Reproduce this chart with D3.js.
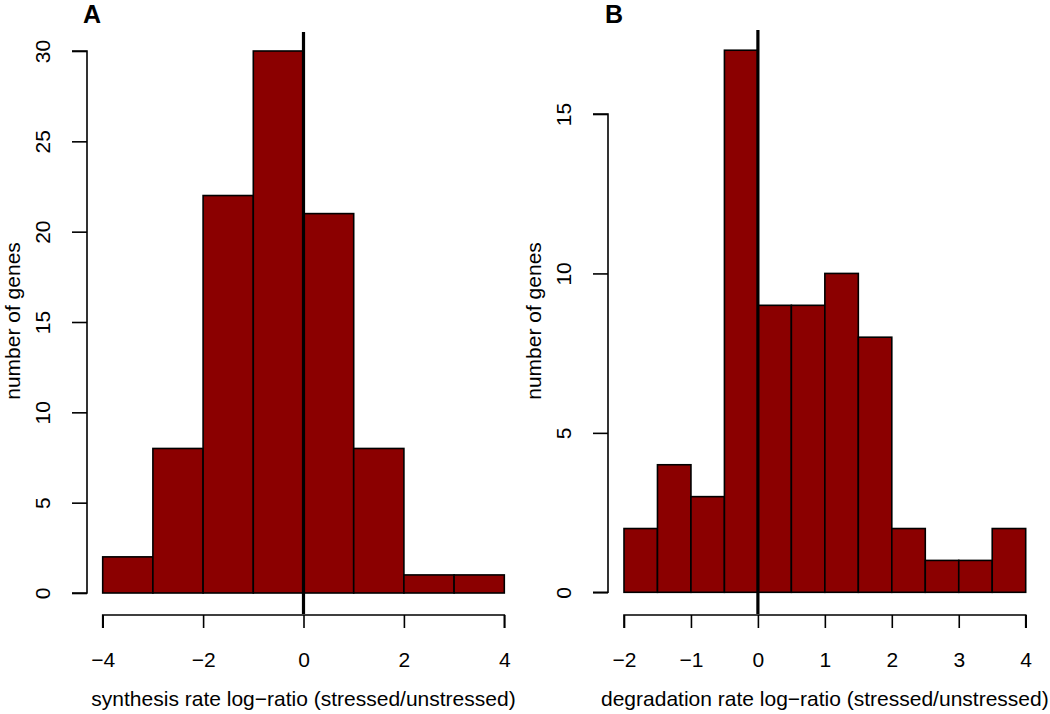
<!DOCTYPE html>
<html><head><meta charset="utf-8">
<script src="https://cdn.jsdelivr.net/npm/d3@7"></script>
<style>body{margin:0;background:#fff}svg{display:block}text{font-family:"Liberation Sans",Arial,sans-serif}</style>
</head><body>
<script>
// Panel A: synthesis rate log-ratio histogram
const binsA = [-4,-3,-2,-1,0,1,2,3,4];
const countsA = [2,8,22,30,21,8,1,1];
const xTicksA = [-4,-2,0,2,4];
const yTicksA = [0,5,10,15,20,25,30];
// Panel B: degradation rate log-ratio histogram
const binsB = [-2,-1.5,-1,-0.5,0,0.5,1,1.5,2,2.5,3,3.5,4];
const countsB = [2,4,3,17,9,9,10,8,2,1,1,2];
const xTicksB = [-2,-1,0,1,2,3,4];
const yTicksB = [0,5,10,15];

const W = 1050, H = 714;
const svg = d3.select("body").append("svg").attr("width", W).attr("height", H);
const fill = "#8b0000";
const FS = 21;

function panel(cfg){
  const g = svg.append("g");
  const x = d3.scaleLinear().domain(cfg.xd).range(cfg.xr);
  const y = d3.scaleLinear().domain(cfg.yd).range(cfg.yr);
  const bars = cfg.counts.map((c,i)=>({x0:cfg.bins[i],x1:cfg.bins[i+1],c}));
  g.selectAll("rect.bar").data(bars).join("rect")
    .attr("x", d=>x(d.x0)).attr("width", d=>x(d.x1)-x(d.x0))
    .attr("y", d=>y(d.c)).attr("height", d=>y(0)-y(d.c))
    .attr("fill", fill).attr("stroke","#000").attr("stroke-width",1.6);
  // zero line
  g.append("line").attr("x1",x(0)).attr("x2",x(0))
    .attr("y1",cfg.plotTop).attr("y2",cfg.plotBottom)
    .attr("stroke","#000").attr("stroke-width",3.2);
  // x axis
  const xa = g.append("g").attr("transform",`translate(0,${cfg.xAxisY})`)
    .call(d3.axisBottom(x).tickValues(cfg.xTicks).tickSize(13)
      .tickFormat(d=>d<0?"\u2212"+Math.abs(d):String(d)));
  xa.select(".domain").attr("d",`M${x(cfg.xTicks[0])},13V0H${x(cfg.xTicks[cfg.xTicks.length-1])}V13`).attr("stroke-width",1.6);
  xa.selectAll(".tick line").attr("stroke-width",1.6);
  xa.selectAll(".tick text").attr("y",52).attr("dy",0).attr("font-size",FS).attr("fill","#000");
  // y axis
  const ya = g.append("g").attr("transform",`translate(${cfg.yAxisX},0)`)
    .call(d3.axisLeft(y).tickValues(cfg.yTicks).tickSize(15).tickFormat(d3.format("d")));
  ya.select(".domain").attr("d",`M-15,${y(cfg.yTicks[cfg.yTicks.length-1])}H0V${y(cfg.yTicks[0])}H-15`).attr("stroke-width",1.6);
  ya.selectAll(".tick line").attr("stroke-width",1.6);
  ya.selectAll(".tick text").attr("x",0).attr("dy",0)
    .attr("transform","translate(-37,0) rotate(-90)")
    .attr("text-anchor","middle")
    .attr("font-size",FS).attr("fill","#000");
  // titles
  g.append("text").attr("x",(x(cfg.xTicks[0])+x(cfg.xTicks[cfg.xTicks.length-1]))/2).attr("y",706)
    .attr("text-anchor","middle").attr("font-size",FS).text(cfg.xTitle);
  g.append("text").attr("transform",`translate(${cfg.yLabX},321) rotate(-90)`)
    .attr("text-anchor","middle").attr("font-size",FS).text("number of genes");
  g.append("text").attr("x",cfg.labelX).attr("y",23).attr("font-size",25)
    .attr("font-weight","bold").text(cfg.label);
}

panel({bins:binsA,counts:countsA,xTicks:xTicksA,yTicks:yTicksA,
  xd:[-4,4],xr:[102.7,504.3],yd:[0,30],yr:[593,51],
  yAxisX:87,xAxisY:615,plotTop:32,plotBottom:614,yLabX:20,
  xTitle:"synthesis rate log\u2212ratio (stressed/unstressed)",label:"A",labelX:83});
panel({bins:binsB,counts:countsB,xTicks:xTicksB,yTicks:yTicksB,
  xd:[-2,4],xr:[624,1025.7],yd:[0,15],yr:[592.3,114],
  yAxisX:608,xAxisY:615,plotTop:30,plotBottom:614,yLabX:541,
  xTitle:"degradation rate log\u2212ratio (stressed/unstressed)",label:"B",labelX:605});
</script>
</body></html>
